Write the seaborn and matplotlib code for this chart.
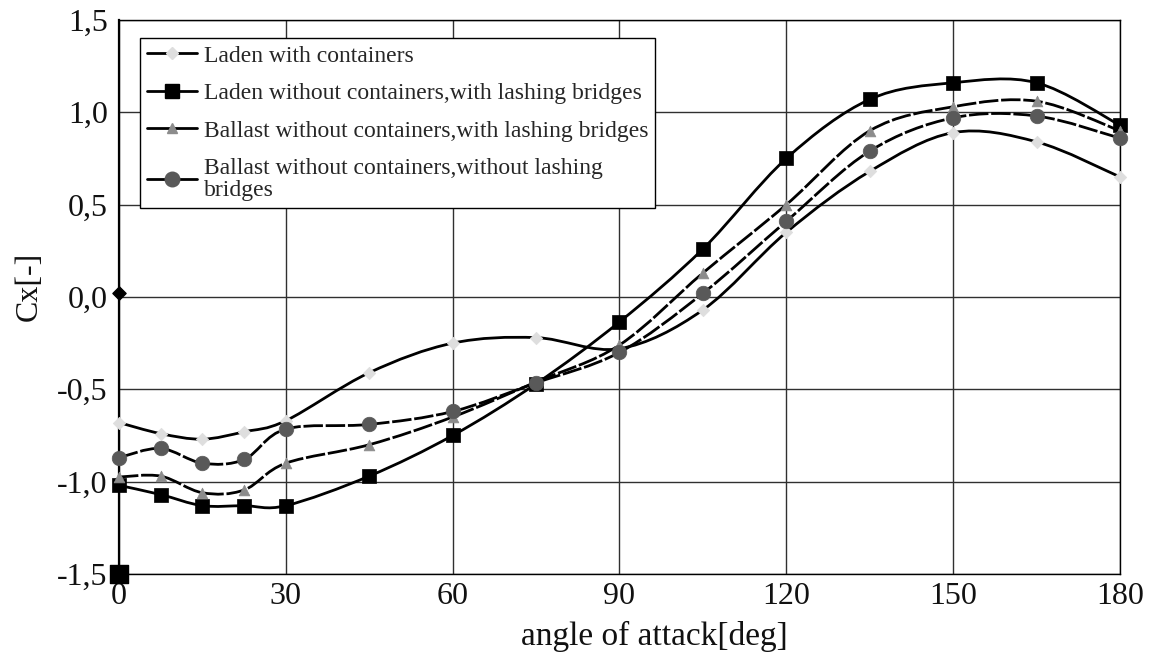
import numpy as np
import pandas as pd
import matplotlib
matplotlib.use("Agg")
import matplotlib.pyplot as plt
from matplotlib.path import Path
from matplotlib.patches import PathPatch
from matplotlib.lines import Line2D
from matplotlib.ticker import FuncFormatter, MultipleLocator
import seaborn as sns

# angle of attack [deg]
angles = [0, 7.5, 15, 22.5, 30, 45, 60, 75, 90, 105, 120, 135, 150, 165, 180]

# drag coefficient Cx for each loading condition
cx_laden_with = [-0.68, -0.74, -0.77, -0.73, -0.67, -0.41, -0.25, -0.22, -0.28,
                 -0.07, 0.35, 0.68, 0.89, 0.84, 0.65]
cx_laden_without_lb = [-1.02, -1.07, -1.13, -1.13, -1.13, -0.97, -0.75, -0.47, -0.135,
                       0.26, 0.75, 1.07, 1.16, 1.16, 0.93]
cx_ballast_with_lb = [-0.975, -0.97, -1.06, -1.045, -0.90, -0.80, -0.65, -0.46, -0.26,
                      0.13, 0.50, 0.90, 1.03, 1.06, 0.90]
cx_ballast_without_lb = [-0.87, -0.82, -0.90, -0.88, -0.715, -0.69, -0.62, -0.465, -0.30,
                         0.02, 0.41, 0.79, 0.97, 0.98, 0.86]

# stray single points on the 0 deg axis
stray_diamond = (0, 0.02)
stray_square = (0, -1.5)

labels = [
    "Laden with containers",
    "Laden without containers,with lashing bridges",
    "Ballast without containers,with lashing bridges",
    "Ballast without containers,without lashing\nbridges",
]

sns.set_style("white")
plt.rcParams["font.family"] = ["Liberation Serif", "DejaVu Serif"]

fig = plt.figure(figsize=(11.64, 6.59), dpi=100)
ax = fig.add_axes([0.1022, 0.129, 0.8600, 0.8407])


def smooth_path(x, y):
    """Cubic Bezier path through the points (Catmull-Rom style smoothing)."""
    pts = np.column_stack([x, y]).astype(float)
    n = len(pts)
    verts = [pts[0]]
    codes = [Path.MOVETO]
    for i in range(n - 1):
        p0 = pts[i - 1] if i > 0 else pts[i]
        p1 = pts[i]
        p2 = pts[i + 1]
        p3 = pts[i + 2] if i + 2 < n else pts[i + 1]
        c1 = p1 + (p2 - p0) / 6.0
        c2 = p2 - (p3 - p1) / 6.0
        verts += [c1, c2, p2]
        codes += [Path.CURVE4] * 3
    return Path(verts, codes)


styles = [
    dict(y=cx_laden_with, marker="D", color="#dedede", s=40, ls="-"),
    dict(y=cx_laden_without_lb, marker="s", color="black", s=110, ls="-"),
    dict(y=cx_ballast_with_lb, marker="^", color="#8c8c8c", s=60, ls=(0, (7, 1))),
    dict(y=cx_ballast_without_lb, marker="o", color="#595959", s=110, ls=(0, (7, 1))),
]

for st, lab in zip(styles, labels):
    patch = PathPatch(smooth_path(angles, st["y"]), fill=False, edgecolor="black",
                      lw=2.0, linestyle=st["ls"], zorder=3, capstyle="butt")
    ax.add_patch(patch)
    df = pd.DataFrame({"angle": angles, "cx": st["y"]})
    sns.scatterplot(data=df, x="angle", y="cx", ax=ax, marker=st["marker"],
                    s=st["s"], color=st["color"], edgecolor=st["color"],
                    linewidth=0.5, zorder=4, clip_on=False, legend=False)

ax.scatter([stray_diamond[0]], [stray_diamond[1]], marker="D", s=45, color="black",
           zorder=5, clip_on=False)
ax.scatter([stray_square[0]], [stray_square[1]], marker="s", s=150, color="black",
           zorder=5, clip_on=False)

ax.set_xlim(0, 180)
ax.set_ylim(-1.5, 1.5)
ax.xaxis.set_major_locator(MultipleLocator(30))
ax.yaxis.set_major_locator(MultipleLocator(0.5))
ax.yaxis.set_major_formatter(FuncFormatter(lambda v, p: f"{v:.1f}".replace(".", ",")))
ax.grid(True, color="#303030", lw=1.0)
ax.set_axisbelow(True)
ax.tick_params(length=0, labelsize=23, colors="#111111")
ax.tick_params(axis="x", pad=6)
ax.tick_params(axis="y", pad=8)
for side, sp in ax.spines.items():
    sp.set_color("black")
    sp.set_linewidth(1.0)
ax.spines["left"].set_linewidth(1.6)

ax.set_xlabel("angle of attack[deg]", fontsize=24, color="#111111")
ax.xaxis.set_label_coords(0.535, -0.085)
ax.set_ylabel("Cx[-]", fontsize=23, color="#111111")
ax.yaxis.set_label_coords(-0.075, 0.52)

handles = []
for st in styles:
    handles.append(Line2D([], [], color="black", lw=2.0, linestyle="-",
                          marker=st["marker"], markersize=np.sqrt(st["s"]),
                          markerfacecolor=st["color"], markeredgecolor=st["color"]))
leg = ax.legend(handles, labels, loc="upper left", bbox_to_anchor=(0.021, 0.9675),
                fontsize=17, frameon=True, fancybox=False, edgecolor="black",
                framealpha=1, borderpad=0.3, labelspacing=0.68, handlelength=2.1,
                handletextpad=0.3, borderaxespad=0)
leg.get_frame().set_linewidth(1.0)
for t in leg.get_texts():
    t.set_linespacing(1.1)
leg.set_zorder(6)

fig.savefig("out.png", dpi=100)
